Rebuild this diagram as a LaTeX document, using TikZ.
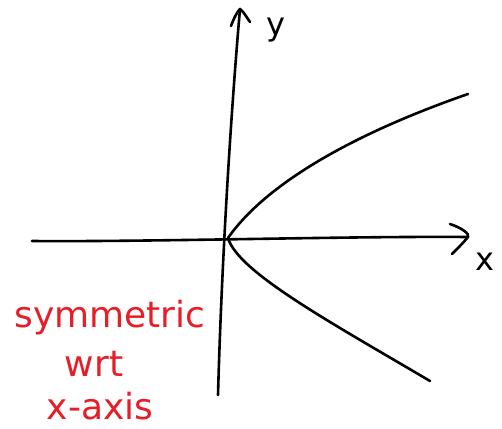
\documentclass[tikz,border=0pt]{standalone}
\usepackage{fontspec}
\setmainfont{DejaVu Sans}
\definecolor{penred}{RGB}{230,30,40}
\begin{document}
\begin{tikzpicture}[x=1pt,y=-1pt,
  pen/.style={line width=2.6pt,line cap=round,line join=round,black},
  redtext/.style={text=penred,font=\fontsize{36}{40}\selectfont,inner sep=0pt},
  axlabel/.style={text=black,font=\fontsize{32}{36}\selectfont,inner sep=0pt}]
\useasboundingbox (0,0) rectangle (502,428);
% axes
\coordinate (xl) at (32,241);
\coordinate (xr) at (468,237);
\coordinate (yb) at (218,395);
\coordinate (yt) at (240,9);
\coordinate (o) at (228,238);
\draw[pen] (xl) .. controls (150,242) and (350,236) .. (xr);
\draw[pen] (450,224) .. controls (462,228) and (470,234) .. (xr) .. controls (464,242) and (458,248) .. (452,254);
\draw[pen] (yb) .. controls (222,250) and (232,100) .. (yt);
\draw[pen] (231,26) .. controls (234,18) and (237,12) .. (yt) .. controls (244,12) and (247,18) .. (250,22);
% curve
\draw[pen] (o) .. controls (265,185) and (350,135) .. (468,94);
\draw[pen] (o) .. controls (238,272) and (330,322) .. (430,381);
% labels
\node[axlabel] (ylab) at (276,30) {y};
\node[axlabel] (xlab) at (485,262) {x};
\node[redtext] (t1) at (110,318) {symmetric};
\node[redtext] (t2) at (94,364) {wrt};
\node[redtext] (t3) at (100,406) {x-axis};
\end{tikzpicture}
\end{document}
